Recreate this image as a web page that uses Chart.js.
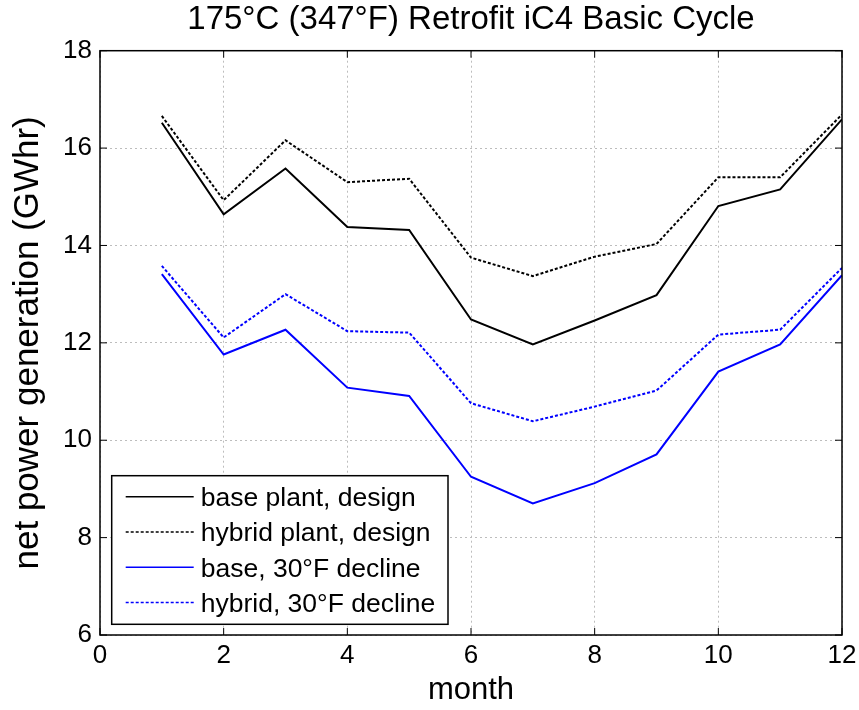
<!DOCTYPE html>
<html>
<head>
<meta charset="utf-8">
<script src="https://cdn.jsdelivr.net/npm/chart.js@4.4.0/dist/chart.umd.min.js"></script>
<style>
  body { margin: 0; background: #fff; }
  #wrap { width: 859px; height: 710px; }
</style>
</head>
<body>
<div id="wrap"><canvas id="chart" width="859" height="710"></canvas></div>
<script>
const months = [1, 2, 3, 4, 5, 6, 7, 8, 9, 10, 11, 12];
const basePlantDesign = [16.52, 14.64, 15.58, 14.38, 14.32, 12.48, 11.97, 12.46, 12.98, 14.81, 15.15, 16.59];
const hybridPlantDesign = [16.66, 14.93, 16.16, 15.30, 15.37, 13.75, 13.37, 13.77, 14.03, 15.40, 15.40, 16.69];
const baseDecline = [13.41, 11.76, 12.27, 11.08, 10.91, 9.25, 8.70, 9.12, 9.71, 11.41, 11.97, 13.39];
const hybridDecline = [13.58, 12.11, 13.00, 12.24, 12.21, 10.76, 10.39, 10.69, 11.02, 12.17, 12.27, 13.54];
const seriesLabels = ['base plant, design', 'hybrid plant, design', 'base, 30°F decline', 'hybrid, 30°F decline'];

const font = "'Liberation Sans', Arial, Helvetica, sans-serif";

function pts(vals) {
  return months.map((m, i) => ({ x: m, y: vals[i] }));
}

// box round the axes, inward ticks, and the legend drawn inside the plot
const framePlugin = {
  id: 'frame',
  afterDatasetsDraw(chart) {
    const ctx = chart.ctx;
    const a = chart.chartArea;
    const xs = chart.scales.x, ys = chart.scales.y;
    ctx.save();
    ctx.strokeStyle = '#000';
    ctx.lineWidth = 1.5;
    ctx.setLineDash([]);
    ctx.strokeRect(a.left, a.top, a.right - a.left, a.bottom - a.top);
    const tl = 7;
    ctx.lineWidth = 1;
    ctx.beginPath();
    xs.ticks.forEach(t => {
      const px = xs.getPixelForValue(t.value);
      ctx.moveTo(px, a.bottom); ctx.lineTo(px, a.bottom - tl);
      ctx.moveTo(px, a.top); ctx.lineTo(px, a.top + tl);
    });
    ys.ticks.forEach(t => {
      const py = ys.getPixelForValue(t.value);
      ctx.moveTo(a.left, py); ctx.lineTo(a.left + tl, py);
      ctx.moveTo(a.right, py); ctx.lineTo(a.right - tl, py);
    });
    ctx.stroke();

    // legend
    const bx = a.left + 11.7, by = a.bottom - 159.3, bw = 336.3, bh = 148.6;
    ctx.fillStyle = '#fff';
    ctx.fillRect(bx, by, bw, bh);
    ctx.lineWidth = 1.5;
    ctx.strokeRect(bx, by, bw, bh);
    ctx.font = '26.5px ' + font;
    ctx.textBaseline = 'middle';
    chart.data.datasets.forEach((ds, i) => {
      const y = by + 21 + i * 35.3;
      ctx.strokeStyle = ds.borderColor;
      ctx.lineWidth = 1.5;
      ctx.setLineDash(ds.borderDash || []);
      ctx.beginPath();
      ctx.moveTo(bx + 14, y);
      ctx.lineTo(bx + 82, y);
      ctx.stroke();
      ctx.setLineDash([]);
      ctx.fillStyle = '#000';
      ctx.fillText(ds.label, bx + 89, y + 2);
    });
    ctx.restore();
  }
};

new Chart(document.getElementById('chart'), {
  type: 'line',
  data: {
    datasets: [
      { label: seriesLabels[0], data: pts(basePlantDesign), borderColor: '#000', borderWidth: 2 },
      { label: seriesLabels[1], data: pts(hybridPlantDesign), borderColor: '#000', borderWidth: 2, borderDash: [3, 2] },
      { label: seriesLabels[2], data: pts(baseDecline), borderColor: '#0000ff', borderWidth: 2 },
      { label: seriesLabels[3], data: pts(hybridDecline), borderColor: '#0000ff', borderWidth: 2, borderDash: [3, 2] }
    ]
  },
  options: {
    responsive: false,
    animation: false,
    devicePixelRatio: 1,
    layout: { padding: { left: 0, right: 17, top: 0, bottom: 0 } },
    elements: { point: { radius: 0 }, line: { tension: 0 } },
    plugins: {
      legend: { display: false },
      tooltip: { enabled: false },
      title: {
        display: true,
        fullSize: false,
        text: '175°C (347°F) Retrofit iC4 Basic Cycle',
        color: '#000',
        font: { family: font, size: 33, weight: 'normal', lineHeight: 1.2 },
        padding: { top: 0, bottom: 11.1 }
      }
    },
    scales: {
      x: {
        type: 'linear',
        min: 0, max: 12,
        border: { display: false, dash: [2, 3] },
        grid: { color: '#bdbdbd', lineWidth: 1, drawTicks: false },
        ticks: { stepSize: 2, color: '#000', padding: 5, font: { family: font, size: 26 } },
        title: { display: true, text: 'month', color: '#000', padding: { top: 0, bottom: 1 }, font: { family: font, size: 31 } },
        afterFit(s) { s.height = 75; s.paddingLeft = 0; s.paddingRight = 0; }
      },
      y: {
        min: 6, max: 18,
        border: { display: false, dash: [2, 3] },
        grid: { color: '#bdbdbd', lineWidth: 1, drawTicks: false },
        ticks: { stepSize: 2, color: '#000', padding: 8, font: { family: font, size: 26 } },
        title: { display: true, text: 'net power generation (GWhr)', color: '#000', padding: { top: 7, bottom: 0 }, font: { family: font, size: 35 } },
        afterFit(s) { s.width = 100; }
      }
    }
  },
  plugins: [framePlugin]
});
</script>
</body>
</html>
